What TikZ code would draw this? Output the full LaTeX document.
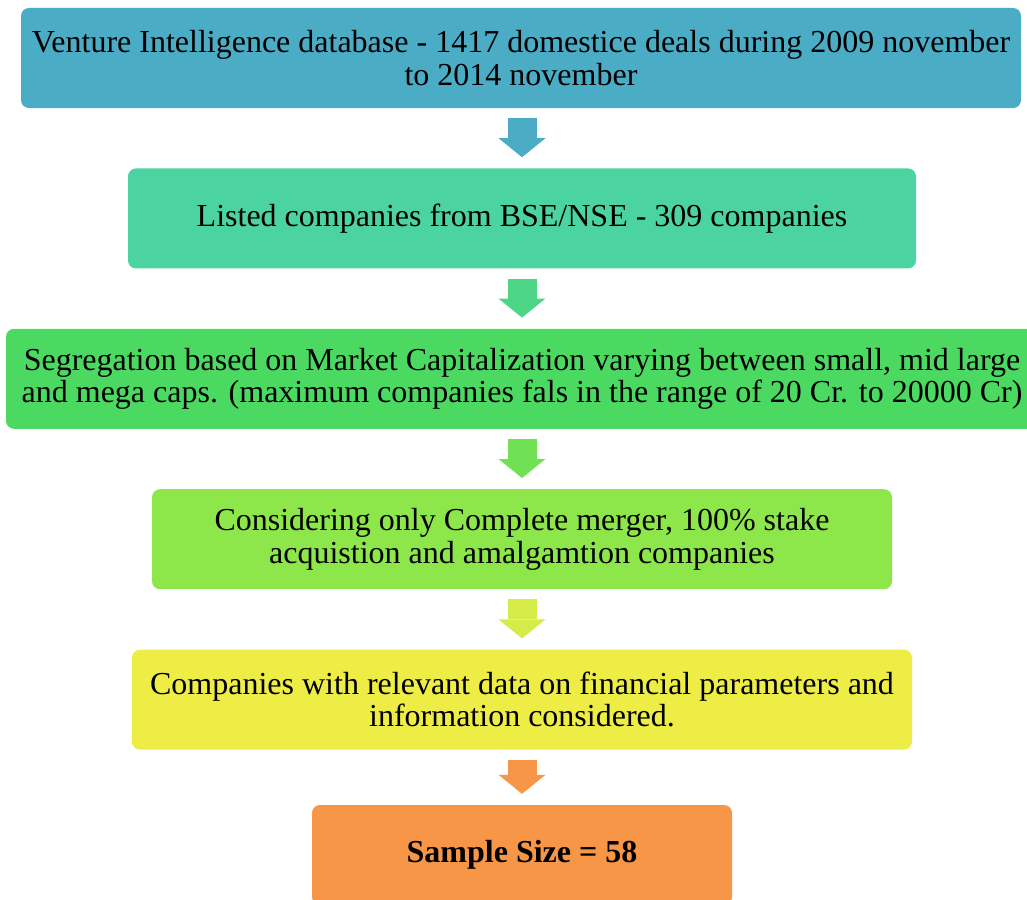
\documentclass[tikz,border=0pt]{standalone}
\usepackage{fontspec}
\setmainfont{Liberation Serif}
\usepackage{tikz}
\usetikzlibrary{positioning}
\usetikzlibrary{arrows.meta}
\definecolor{Teal}{HTML}{4BACC6}
\definecolor{Aqua}{HTML}{4CD3A2}
\definecolor{Green}{HTML}{4CD962}
\definecolor{Lime}{HTML}{8DE64A}
\definecolor{Yellow}{HTML}{EDED46}
\definecolor{Orange}{HTML}{F79646}
\colorlet{AquaGreen}{Aqua!55!Green}
\colorlet{GreenLime}{Green!45!Lime}
\colorlet{LimeYellow}{Lime!25!Yellow}

\tikzset{
  stage/.style={rectangle, rounded corners=8pt, minimum height=100pt, inner sep=0pt,
                align=center, font=\fontsize{32}{32.5}\selectfont, text=black},
  flow/.style={line width=29pt, -{Triangle[width=47pt,length=19pt,line width=0pt]},
               shorten <=10pt, shorten >=11pt}
}

\begin{document}
\begin{tikzpicture}[x=1pt, y=1pt]
        \useasboundingbox (0,0) rectangle (1027,-899);
        \node[stage, fill=Teal, minimum width=1000pt] (B1) at (521,-58) {Venture Intelligence database - 1417 domestice deals during 2009 november\\to 2014 november};
        \node[stage, fill=Aqua, minimum width=788pt, below=60pt of B1, xshift=1pt] (B2) {Listed companies from BSE/NSE - 309 companies};
        \node[stage, fill=Green, minimum width=1032pt, below=60pt of B2] (B3) {Segregation based on Market Capitalization varying between small, mid large\\and mega caps. (maximum companies fals in the range of 20 Cr. to 20000 Cr)};
        \node[stage, fill=Lime, minimum width=740pt, below=60pt of B3] (B4) {Considering only Complete merger, 100\% stake\\acquistion and amalgamtion companies};
        \node[stage, fill=Yellow, minimum width=780pt, below=60pt of B4] (B5) {Companies with relevant data on financial parameters and\\information considered.};
        \node[stage, fill=Orange, minimum width=420pt, below=55pt of B5] (B6) {\textbf{Sample Size = 58}};

        % arrows (step to step)
        \draw[flow, Teal] (B1.south -| B2) -- (B2.north);
        \draw[flow, AquaGreen] (B2) -- (B3);
        \draw[flow, GreenLime] (B3) -- (B4);
        \draw[flow, LimeYellow] (B4) -- (B5);
        \draw[flow, Orange] (B5) -- (B6);
    \end{tikzpicture}
\end{document}
